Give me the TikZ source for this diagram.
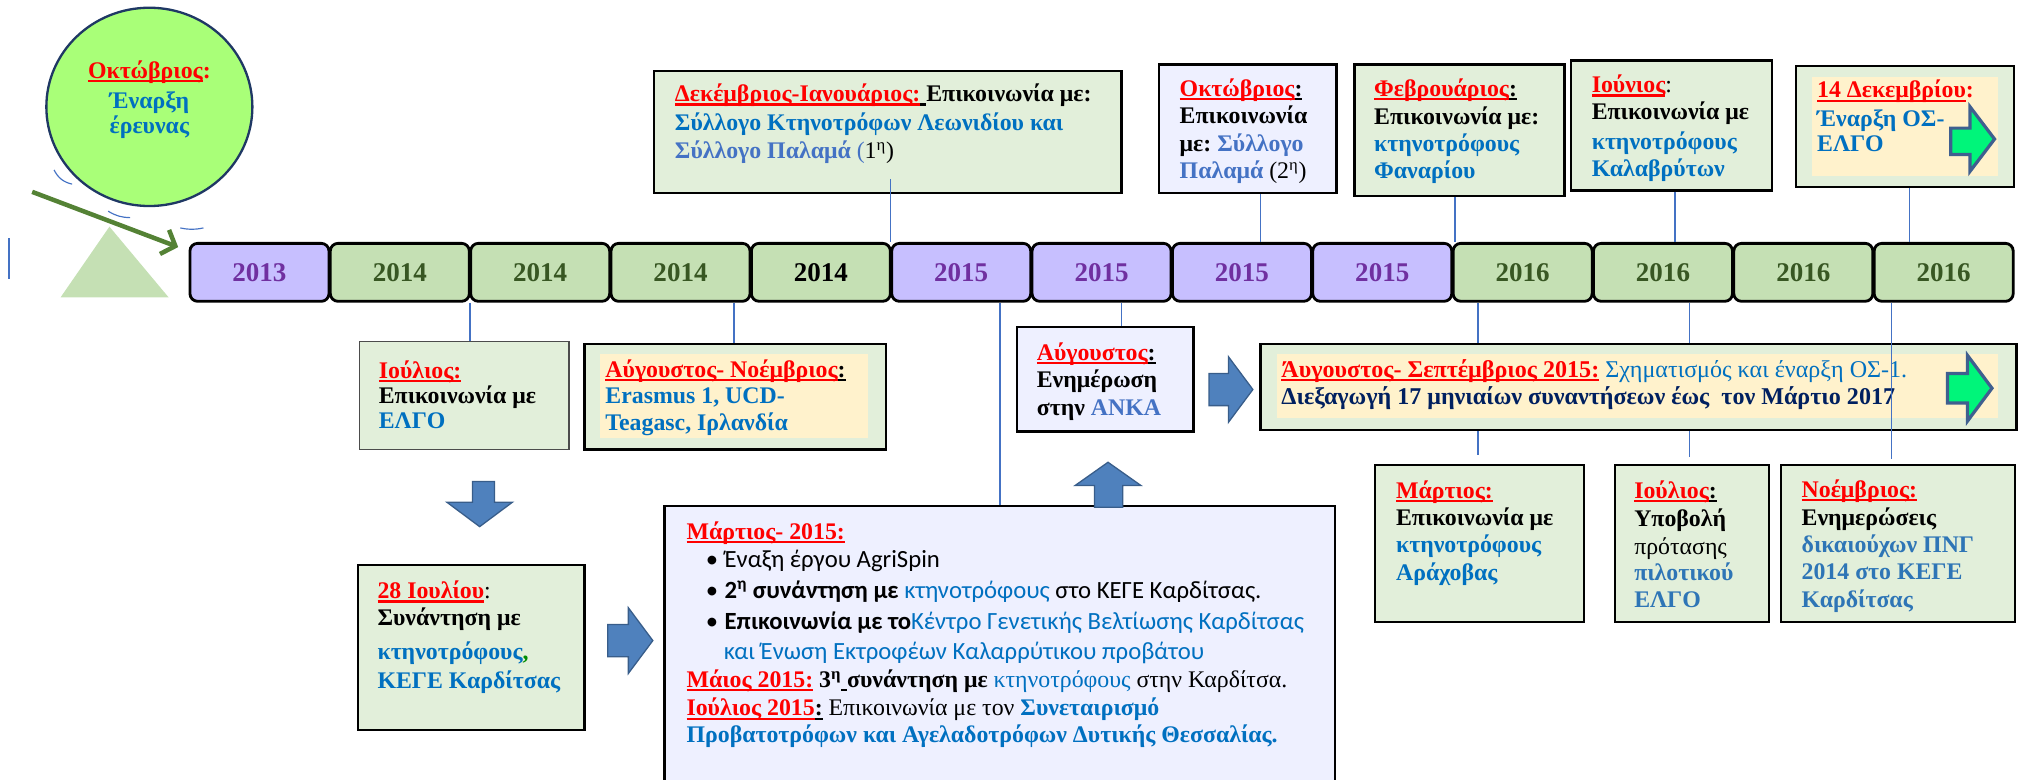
\documentclass[tikz,border=0pt]{standalone}
\usepackage{fontspec}
\setmainfont{Liberation Serif}
\newfontfamily\calfont{Carlito}
\usetikzlibrary{arrows.meta,shapes.geometric}
\definecolor{tred}{HTML}{FF0000}
\definecolor{tblue}{HTML}{0070C0}
\definecolor{lblue}{HTML}{4472C4}
\definecolor{mblue}{HTML}{2E75B6}
\definecolor{navy}{HTML}{002060}
\definecolor{gfill}{HTML}{E2EFDA}
\definecolor{lfill}{HTML}{EEF0FF}
\definecolor{yfill}{HTML}{FFF2CC}
\definecolor{pfill}{HTML}{C7BFFF}
\definecolor{ptext}{HTML}{7030A0}
\definecolor{ygfill}{HTML}{C5E0B4}
\definecolor{gtext}{HTML}{385723}
\definecolor{circfill}{HTML}{A9FF78}
\definecolor{circline}{HTML}{1F3864}
\definecolor{barrow}{HTML}{4F81BD}
\definecolor{barrowl}{HTML}{385D8A}
\definecolor{garrow}{HTML}{00F57A}
\definecolor{garrowl}{HTML}{3F5F8F}
\definecolor{olivec}{HTML}{548235}
\definecolor{tric}{HTML}{C5E0B4}
\definecolor{connc}{HTML}{4472C4}
\newsavebox\ulbox
\newcommand\ulc[2]{\sbox\ulbox{#2}\rlap{\textcolor{#1}{\rule[-3pt]{\wd\ulbox}{1.7pt}}}\usebox\ulbox}
\newcommand\mon[1]{\ulc{tred}{\textcolor{tred}{#1}}}
\newcommand\ulk[1]{\ulc{black}{#1}}
\newcommand\sh[1]{\textsuperscript{#1}}
\tikzset{
  yrbox/.style={draw, line width=2.2pt, rounded corners=6pt, minimum width=108pt, minimum height=45pt, inner sep=0pt, font=\bfseries\fontsize{21}{24}\selectfont},
  bx/.style={draw, line width=1.8pt, inner sep=0pt},
  tl/.style={anchor=base west, inner sep=0pt, font=\bfseries\fontsize{18.5}{21}\selectfont},
  cal/.style={font=\calfont\fontsize{19.2}{22}\selectfont},
  conn/.style={draw=connc, line width=1.2pt},
  barr/.style={fill=barrow, draw=barrowl, line width=1pt, line join=miter},
  garr/.style={fill=garrow, draw=garrowl, line width=2.5pt, line join=miter},
}
\begin{document}
\begin{tikzpicture}[x=1pt,y=-1pt]
\useasboundingbox (0,0) rectangle (1568,605);

% start circle, triangle, arrow
\node[ellipse, draw=circline, line width=1.8pt, fill=circfill, minimum width=160pt, minimum height=154pt] (circ) at (116,83) {};
\node[tl, anchor=base] (c1) at (116,61) {\mon{Οκτώβριος}\textcolor{tred}{:}};
\node[tl, anchor=base, text=tblue] (c2) at (116,84) {Έναρξη};
\node[tl, anchor=base, text=tblue] (c3) at (116,104) {έρευνας};
\draw[connc, line width=0.9pt] (42,132) to[bend right=25] (56,143);
\draw[connc, line width=0.9pt] (84,164) to[bend right=15] (101,169);
\draw[connc, line width=0.9pt] (140,177) to[bend right=12] (158,177);
\fill[tric] (47,231) -- (85,176) -- (131,231) -- cycle;
\draw[connc, line width=1.2pt] (7,185) -- (7,217);

% timeline
\foreach \i/\t/\f/\c in {0/2013/pfill/ptext,1/2014/ygfill/gtext,2/2014/ygfill/gtext,3/2014/ygfill/gtext,4/2014/ygfill/black,5/2015/pfill/ptext,6/2015/pfill/ptext,7/2015/pfill/ptext,8/2015/pfill/ptext,9/2016/ygfill/gtext,10/2016/ygfill/gtext,11/2016/ygfill/gtext,12/2016/ygfill/gtext}
  \node[yrbox, fill=\f, text=\c] (yr\i) at ({201.5+109*\i},211.5) {\t};

\coordinate (gs) at (25,149);
\draw[olivec, line width=3.5pt, -{Straight Barb[length=9pt,width=20pt]}] (gs) -- ([xshift=-8pt,yshift=-4pt]yr0.north west);

% top boxes
\node[bx, fill=gfill, minimum width=363pt, minimum height=95pt] (dec) at (689.5,102.5) {};
\node[tl] (dec1) at (524,79) {\mon{Δεκέμβριος-Ιανουάριος:}\ulk{\ }Επικοινωνία με:};
\node[tl, text=tblue] (dec2) at (524,101) {Σύλλογο Κτηνοτρόφων Λεωνιδίου και};
\node[tl] (dec3) at (524,123) {\textcolor{lblue}{Σύλλογο Παλαμά }{\mdseries\textcolor{lblue}{(}1\sh{η})}};

\node[bx, fill=lfill, minimum width=138pt, minimum height=100pt] (okt) at (969,100) {};
\node[tl] (okt1) at (916,75) {\mon{Οκτώβριος}\ulk{:}};
\node[tl] (okt2) at (916,96) {Επικοινωνία};
\node[tl] (okt3) at (916,118) {με:\ \textcolor{lblue}{Σύλλογο}};
\node[tl] (okt4) at (916,139) {\textcolor{lblue}{Παλαμά}\ {\mdseries(2\sh{η})}};

\node[bx, fill=gfill, minimum width=163pt, minimum height=102pt] (feb) at (1133.5,101) {};
\node[tl] (feb1) at (1067,75) {\mon{Φεβρουάριος}\ulk{:}};
\node[tl] (feb2) at (1067,97) {Επικοινωνία με:};
\node[tl, text=tblue] (feb3) at (1067,118) {κτηνοτρόφους};
\node[tl, text=tblue] (feb4) at (1067,139) {Φαναρίου};

\node[bx, fill=gfill, minimum width=156pt, minimum height=101pt] (jun) at (1298,97.5) {};
\node[tl] (jun1) at (1236,72) {\mon{Ιούνιος}{\mdseries:}};
\node[tl] (jun2) at (1236,93) {Επικοινωνία με};
\node[tl, text=tblue] (jun3) at (1236,116) {κτηνοτρόφους};
\node[tl, text=tblue] (jun4) at (1236,137) {Καλαβρύτων};

\node[bx, fill=gfill, minimum width=169pt, minimum height=94pt] (d14) at (1479.5,98) {};
\node[fill=yfill, inner sep=0pt, minimum width=145pt, minimum height=77pt] (d14y) at (1479.5,98.5) {};
\node[tl] (d141) at (1411,76) {\mon{14 Δεκεμβρίου}\textcolor{tred}{:}};
\node[tl, text=tblue] (d142) at (1411,98) {Έναρξη ΟΣ-};
\node[tl, text=tblue] (d143) at (1411,118) {ΕΛΓΟ};
\draw[garr] (1515,99.5) -- (1530,99.5) -- (1530,83) -- (1549,108) -- (1530,133) -- (1530,120) -- (1515,120) -- cycle;

% connectors top
\draw[conn] ([yshift=12pt]dec.south -| yr5.north west) -- (yr5.north west);
\draw[conn] ([xshift=10pt]okt.south) -- ([xshift=10pt]okt.south |- yr7.north);
\draw[conn] ([xshift=-3.5pt]feb.south) -- ([xshift=-3.5pt]feb.south |- yr9.north);
\draw[conn] ([xshift=3pt]jun.south) -- ([xshift=3pt]jun.south |- yr10.north);
\draw[conn] ([xshift=3.5pt]d14.south) -- ([xshift=3.5pt]d14.south |- yr12.north);

% lower-left boxes
\node[bx, draw=black!70, line width=1pt, fill=gfill, minimum width=163pt, minimum height=84pt] (iul) at (360.5,307) {};
\node[tl] (iul1) at (294,294) {\mon{Ιούλιος:}};
\node[tl] (iul2) at (294,313) {Επικοινωνία με};
\node[tl, text=tblue] (iul3) at (294,333) {ΕΛΓΟ};

\node[bx, fill=gfill, minimum width=234pt, minimum height=82pt] (avn) at (571,308) {};
\node[fill=yfill, inner sep=0pt, minimum width=208pt, minimum height=65pt] (avny) at (570,307.5) {};
\node[tl] (avn1) at (470,293) {\mon{Αύγουστος- Νοέμβριος}\ulk{:}};
\node[tl, text=tblue] (avn2) at (470,313) {Erasmus 1, UCD-};
\node[tl, text=tblue] (avn3) at (470,334) {Teagasc, Ιρλανδία};

\draw[conn] ([xshift=4.5pt]iul.north |- yr1.south) -- ([xshift=4.5pt]iul.north);
\draw[conn] ([xshift=-1pt]avn.north |- yr3.south) -- ([xshift=-1pt]avn.north);

\draw[barr] (367,374) -- (384,374) -- (384,390) -- (398,390) -- (372.5,409) -- (347,390) -- (367,390) -- cycle;

\node[bx, fill=gfill, minimum width=176pt, minimum height=128pt] (k28) at (366,503) {};
\node[tl] (k281) at (293,465) {\mon{28 Ιουλίου}{\mdseries:}};
\node[tl] (k282) at (293,486) {Συνάντηση με};
\node[tl, text=tblue] (k283) at (293,512) {κτηνοτρόφους\textcolor{green!55!black}{,}};
\node[tl, text=tblue] (k284) at (293,535) {ΚΕΓΕ Καρδίτσας};

\draw[barr] (472,485) -- (488,485) -- (488,472) -- (507,497.5) -- (488,523) -- (488,510) -- (472,510) -- cycle;

% big box
\node[bx, fill=lfill, minimum width=521pt, minimum height=227pt] (big) at (776.5,506.5) {};
\draw[conn] (big.north |- yr6.south) -- (big.north);
\node[tl] (big1) at (533,419) {\mon{Μάρτιος- 2015:}};
\node[tl, cal] (big2) at (548,441) {\textbullet\hspace{5pt}Έναξη έργου AgriSpin};
\node[tl, cal] (big3) at (548,465) {\textbullet\hspace{5pt}{\bfseries 2\sh{η} συνάντηση με}\ \textcolor{tblue}{κτηνοτρόφους}\ στο ΚΕΓΕ Καρδίτσας.};
\node[tl, cal] (big4) at (548,489) {\textbullet\hspace{5pt}{\bfseries Επικοινωνία με το}\textcolor{tblue}{Κέντρο Γενετικής Βελτίωσης Καρδίτσας}};
\node[tl, cal, text=tblue] (big5) at (562,512) {και Ένωση Εκτροφέων Καλαρρύτικου προβάτου};
\node[tl] (big6) at (533,534) {\mon{Μάιος 2015:}\ 3\sh{η}\ulk{\ }συνάντηση με\ {\mdseries\textcolor{tblue}{κτηνοτρόφους}\ στην Καρδίτσα.}};
\node[tl] (big7) at (533,556) {\mon{Ιούλιος 2015}\ulk{:}{\mdseries\ Επικοινωνία με τον}\ \textcolor{tblue}{Συνεταιρισμό}};
\node[tl, text=tblue] (big8) at (533,577) {Προβατοτρόφων και Αγελαδοτρόφων Δυτικής Θεσσαλίας.};

\draw[barr] (850,394) -- (850,377) -- (835,377) -- (860.5,359) -- (886,377) -- (872,377) -- (872,394) -- cycle;

% ANKA box
\node[bx, fill=lfill, minimum width=137pt, minimum height=81pt] (anka) at (858.5,294.5) {};
\draw[conn] ([xshift=12.5pt]anka.north |- yr7.south) -- ([xshift=12.5pt]anka.north);
\node[tl] (anka1) at (805,280) {\mon{Αύγουστος}\ulk{:}};
\node[tl] (anka2) at (805,301) {Ενημέρωση};
\node[tl] (anka3) at (805,323) {στην\ \textcolor{lblue}{ΑΝΚΑ}};

\draw[barr] (939,290) -- (954,290) -- (954,277) -- (973,302.5) -- (954,328) -- (954,315) -- (939,315) -- cycle;

% lower-right boxes
\node[bx, fill=gfill, minimum width=162pt, minimum height=122pt] (mar) at (1149,422) {};
\node[bx, fill=gfill, minimum width=120pt, minimum height=122pt] (iul16) at (1314,422) {};
\node[bx, fill=gfill, minimum width=182pt, minimum height=122pt] (noe) at (1474,422) {};
\draw[conn] ([xshift=-1pt]mar.north |- yr9.south) -- ([xshift=-1pt,yshift=7pt]mar.north);
\draw[conn] ([xshift=-2pt]iul16.north |- yr10.south) -- ([xshift=-2pt,yshift=5pt]iul16.north);

% OS-1 box
\node[bx, fill=gfill, minimum width=587pt, minimum height=67pt] (os) at (1272.5,300.5) {};
\node[fill=yfill, inner sep=0pt, minimum width=560pt, minimum height=50pt] (osy) at (1272,300) {};
\node[tl, font=\bfseries\fontsize{18.7}{21}\selectfont] (os1) at (995,293) {\mon{Άυγουστος- Σεπτέμβριος 2015:}{\mdseries\ \textcolor{tblue}{Σχηματισμός και έναρξη ΟΣ-1.}}};
\node[tl, font=\bfseries\fontsize{18.7}{21}\selectfont, text=navy] (os2) at (995,314) {Διεξαγωγή 17 μηνιαίων συναντήσεων έως\ \ τον Μάρτιο 2017};
\draw[garr] (1512.5,290) -- (1528,290) -- (1528,276) -- (1547,301.5) -- (1528,327) -- (1528,313) -- (1512.5,313) -- cycle;
\draw[conn] ([xshift=-5pt]noe.north |- yr12.south) -- ([xshift=-5pt,yshift=4pt]noe.north);

\node[tl] (mar1) at (1084,387) {\mon{Μάρτιος:}};
\node[tl] (mar2) at (1084,408) {Επικοινωνία με};
\node[tl, text=tblue] (mar3) at (1084,429) {κτηνοτρόφους};
\node[tl, text=tblue] (mar4) at (1084,451) {Αράχοβας};

\node[tl] (iu1) at (1269,387) {\mon{Ιούλιος}\ulk{:}};
\node[tl] (iu2) at (1269,409) {Υποβολή};
\node[tl] (iu3) at (1269,431) {\mdseries πρότασης};
\node[tl, text=mblue] (iu4) at (1269,451) {πιλοτικού};
\node[tl, text=mblue] (iu5) at (1269,472) {ΕΛΓΟ};

\node[tl] (no1) at (1399,386) {\mon{Νοέμβριος:}};
\node[tl] (no2) at (1399,408) {Ενημερώσεις};
\node[tl, text=mblue] (no3) at (1399,429) {δικαιούχων ΠΝΓ};
\node[tl, text=mblue] (no4) at (1399,450) {2014 στο ΚΕΓΕ};
\node[tl, text=mblue] (no5) at (1399,472) {Καρδίτσας};
\end{tikzpicture}
\end{document}
